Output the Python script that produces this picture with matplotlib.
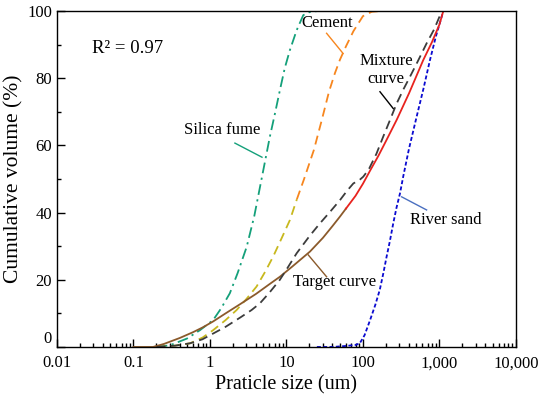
import numpy as np
import matplotlib.pyplot as plt
from matplotlib.ticker import FixedLocator, LogLocator, NullFormatter

plt.rcParams['font.family'] = ['Liberation Serif', 'DejaVu Serif']

# particle size distributions (size in um, cumulative %)
silica_x = [0.2, 0.3, 0.5, 0.74, 1.1, 1.4, 1.82, 2.3, 3.02, 3.8, 4.7, 6.07, 7, 8.22,
            9.5, 11.1, 13.6, 16.6, 20, 25]
silica_y = [0, 0.5, 2.5, 5, 8, 11.5, 16, 22, 29.8, 39, 49.7, 62.6, 69, 76.5,
            83, 88.4, 94.3, 98.8, 99.7, 100]

cement_x = [0.2, 0.35, 0.55, 0.8, 1.1, 1.6, 2.23, 3, 4.07, 5.3, 6.7, 8.7, 11.1, 13.7,
            17, 22.8, 29, 36, 43, 50, 60, 75, 100, 130, 165]
cement_y = [0, 0.4, 1.1, 2.8, 5, 8, 11, 14.3, 18, 22.5, 26.9, 32.5, 37.8, 44,
            50, 58.6, 67.6, 76, 81.5, 85.5, 89.5, 94, 98.5, 99.8, 100]

sand_x = [25, 40, 60, 80, 91, 105, 124, 145, 166, 185, 204, 225, 249, 275, 305, 336,
          400, 503, 620, 752, 900, 1000, 1123]
sand_y = [0, 0, 0.3, 0.6, 1.1, 3.5, 8, 12.5, 17, 22, 26.9, 31.5, 36.8, 41.5, 45.7, 50.7,
          59, 68.5, 77, 85.4, 92.5, 96, 100]

# target curve: brown part then red part
target_x = [0.1, 0.18, 0.25, 0.405, 0.6, 0.8, 1.1, 1.6, 2.5, 4, 6, 8.2, 12, 20.3, 30, 40, 50, 60]
target_y = [0, 0, 0.9, 2.7, 4.4, 5.8, 7.6, 10, 12.8, 15.8, 18.7, 20.9, 24, 28.4, 32.5, 36, 38.8, 41.2]
target2_x = [60, 80, 100, 124, 160, 200, 276, 400, 614, 800, 1000, 1123]
target2_y = [41.2, 45, 48.6, 52.5, 57, 61.3, 67.6, 75.5, 85.4, 90.8, 96, 100]

mix_x = [0.2, 0.35, 0.55, 0.8, 1.1, 1.6, 2.5, 3.5, 4.5, 6, 8.2, 10.5, 13.6, 20, 27.4, 38,
         50, 62, 75, 90, 101, 120, 150, 184, 230, 276, 340, 411, 520, 680, 850, 1000, 1100]
mix_y = [0, 0.4, 1.1, 2.3, 4, 6, 8.8, 11, 13, 16.2, 20, 23.8, 27.9, 33, 36.8, 40.5,
         43.7, 46.5, 48.7, 49.7, 50.7, 53, 57.5, 62.6, 68, 72.5, 76.8, 80.4, 85, 90.4, 94.5, 98.3, 100]

x_ticks = [0.01, 0.1, 1, 10, 100, 1000, 10000]
x_labels = ['0.01', '0.1', '1', '10', '100', '1,000', '10,000']

green = '#14a07a'
orange = '#f7861e'
olive = '#c8b81e'
blue = '#0a0ad0'
red = '#e8231e'
brown = '#8b5a2b'
grey = '#3c3c3c'

fig = plt.figure(figsize=(5.5, 3.97), dpi=100)
ax = fig.add_axes([0.1036, 0.126, 0.8344, 0.846])

ax.plot(silica_x, silica_y, color=green, lw=1.3, ls=(0, (6, 2.5, 1.2, 2.5)))

# cement line shifts from olive to orange going up
cx = np.array(cement_x)
cy = np.array(cement_y)
k = np.searchsorted(cy, 44)
ax.plot(cx[:k + 1], cy[:k + 1], color=olive, lw=1.3, ls=(0, (5, 3)))
ax.plot(cx[k:], cy[k:], color=orange, lw=1.3, ls=(0, (5, 3)))

ax.plot(sand_x, sand_y, color=blue, lw=1.3, ls=(0, (2.2, 1.3)))

ax.plot(target_x, target_y, color=brown, lw=1.3)
ax.plot(target2_x, target2_y, color=red, lw=1.3)

ax.plot(mix_x, mix_y, color=grey, lw=1.3, ls=(0, (5, 3)))

ax.set_xscale('log')
ax.set_xlim(0.01, 10000)
ax.set_ylim(0, 100)
ax.xaxis.set_major_locator(FixedLocator(x_ticks))
ax.set_xticklabels(x_labels)
ax.xaxis.set_minor_locator(LogLocator(base=10, subs=np.arange(2, 10)))
ax.xaxis.set_minor_formatter(NullFormatter())
ax.set_yticks([0, 20, 40, 60, 80, 100])
ax.set_yticks(np.arange(10, 100, 20), minor=True)
ax.tick_params(which='both', direction='in', top=False, right=False, labelsize=12)
ax.tick_params(axis='x', which='major', pad=6)
ax.tick_params(which='major', length=6, width=1)
ax.tick_params(which='minor', length=3, width=1)
ax.get_yticklabels()[0].set_va('bottom')
for s in ax.spines.values():
    s.set_linewidth(1)

ax.set_xlabel('Praticle size (um)', fontsize=14.5, labelpad=3)
ax.set_ylabel('Cumulative volume (%)', fontsize=15.5, labelpad=3)

ax.text(0.029, 89, 'R² = 0.97', fontsize=13.5, va='center', ha='left')

fs = 12
ax.text(1.44, 64.6, 'Silica fume', fontsize=fs, ha='center', va='center')
ax.plot([2.12, 4.79], [60.7, 56.5], color=green, lw=1)

ax.text(33.8, 96.4, 'Cement', fontsize=fs, ha='center', va='center')
ax.plot([33.5, 55], [93.4, 87.4], color=orange, lw=1)

ax.text(200, 82.5, 'Mixture\ncurve', fontsize=fs, ha='center', va='center', linespacing=1.15)
ax.plot([167, 249], [76, 71], color='black', lw=1)

ax.text(1200, 37.8, 'River sand', fontsize=fs, ha='center', va='center')
ax.plot([321, 680], [44.7, 40.8], color='#4a6fc0', lw=1)

ax.text(43, 19.3, 'Target curve', fontsize=fs, ha='center', va='center')
ax.plot([19.3, 33.5], [27.4, 20.9], color=brown, lw=1)

fig.savefig('out.png', dpi=100)
